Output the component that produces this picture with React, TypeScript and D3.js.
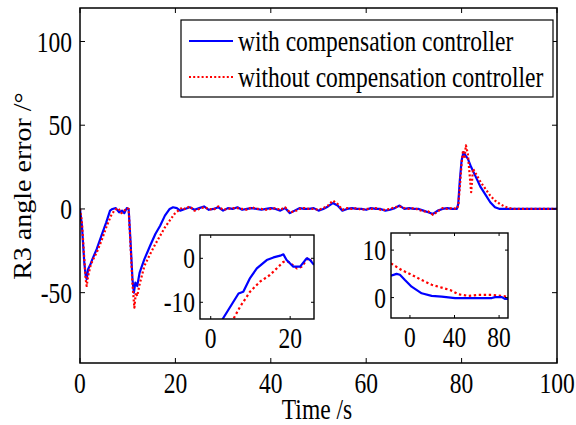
import React from "react";
import * as d3 from "d3";

// Main trace: R3 angle error (deg) vs time (s), [time, value]
const withCompensation: [number, number][] = [
  [0, 0], [0.4, -10], [0.9, -32], [1.2, -40], [1.4, -42], [1.7, -36], [2.2, -33], [2.6, -30],
  [3.5, -24], [4.5, -16], [5.5, -8], [6.3, -1], [6.8, 0], [7.5, 0.5], [8.2, -2], [8.8, -1],
  [9.3, -2.5], [9.8, 0.5], [10.2, 0], [10.6, -20], [11.0, -42], [11.3, -50], [11.6, -44],
  [12.0, -46], [12.5, -38], [13.5, -30], [14.7, -22], [15.8, -15], [16.8, -10], [17.8, -4],
  [18.8, 0], [19.5, 1], [20.3, 0.5],
  [21, -1], [22, 0], [23, 1], [24, -0.5], [25, 0.5], [26, 1.5], [27, -0.5], [28, 0], [29, 1],
  [30, -1], [31, 0.5], [32, 0], [33, 1], [34, -0.5], [35, 0], [36, 0.5], [37, 0], [38, -0.5],
  [39, 0], [40, 0.5], [41, 0], [42, -1], [43, 0.5], [44, -2.5], [45, -1], [46, 0.5], [47, 0],
  [48, 0], [49, 0.5], [50, -1], [51, 0], [52, 1.5], [53, 3.5], [54, 2], [55, -1], [56, 0],
  [57, 0.5], [58, 0], [59, 0], [60, -0.5], [61, 0.5], [62, 0], [63, 0], [64, -1], [65, -0.5],
  [66, 0.5], [67, 2], [68, 0], [69, 0.5], [70, 0], [71, 0], [72, -1], [73, -2], [74, -3],
  [75, -1], [76, 0], [77, 0.5], [78, 0], [79, 0],
  [79.3, 3], [79.6, 16], [80, 29], [80.4, 34], [80.8, 32], [81.3, 30], [82, 25], [83, 19],
  [84, 13], [85, 8.5], [86, 4], [87, 1], [88, 0], [90, 0], [95, 0], [100, 0],
];

const withoutCompensation: [number, number][] = [
  [0, 0], [0.4, -8], [0.9, -30], [1.2, -42], [1.4, -46], [1.7, -40], [2.2, -34], [2.6, -31],
  [3.5, -26], [4.5, -19], [5.5, -11], [6.5, -4], [7.3, -0.5], [8, 0.5], [8.7, -2.5], [9.3, -1],
  [9.8, 0.5], [10.2, 0], [10.6, -22], [11.0, -45], [11.4, -59], [11.7, -50], [12.0, -52],
  [12.5, -45], [13.5, -34], [14.7, -27], [15.8, -21], [16.8, -16], [17.8, -11], [18.8, -7],
  [19.8, -3], [20.8, -0.5], [21.5, 1],
  [22, 0], [23, 1.5], [24, -1], [25, 0], [26, 1], [27, 0], [28, -0.5], [29, 1.5], [30, -0.5],
  [31, 0], [32, 0.5], [33, 0.5], [34, 0], [35, -0.5], [36, 1], [37, 0], [38, 0], [39, -0.5],
  [40, 0], [41, 0.5], [42, -0.5], [43, 1], [44, -2], [45, -1.5], [46, 0], [47, 0.5], [48, 0],
  [49, 0], [50, -0.5], [51, 0.5], [52, 2], [53, 5], [54, 3], [55, -0.5], [56, 0.5], [57, 0],
  [58, 0.5], [59, -0.5], [60, 0], [61, 0], [62, 0.5], [63, -0.5], [64, -0.5], [65, 0],
  [66, 1], [67, 1.5], [68, 0.5], [69, 0], [70, 0.5], [71, -0.5], [72, -1.5], [73, -1.5],
  [74, -3.5], [75, -1.5], [76, 0.5], [77, 0], [78, 0.5], [79, 0],
  [79.3, 2], [79.6, 12], [80, 27], [80.3, 35], [80.6, 30], [80.9, 38], [81.3, 33], [81.7, 20],
  [82, 10], [82.4, 24], [83, 21], [84, 16], [85, 12], [86, 8], [87, 5], [88, 3], [89, 1.5],
  [90, 0.5], [91, 0], [95, 0], [100, 0],
];

// Detail window 1 (recovery after the second dip)
const detailAWith: [number, number][] = [
  [-3, -22], [3.0, -13.8], [7.0, -8.0], [8.2, -7.6], [9.9, -4.5], [11.6, -2.3], [14.1, -0.4],
  [15.8, 0.2], [17.5, 0.6], [18.3, 0.9], [19.1, -0.4], [20.8, -1.9], [22.5, -1.9], [23.8, -0.4],
  [24.2, 0], [25.0, -0.4], [26, -1.5],
];
const detailAWithout: [number, number][] = [
  [-3, -30], [5.7, -13.8], [7.4, -11], [9.9, -7.6], [12.4, -5.3], [14.9, -3.8], [16.6, -2.3],
  [18.3, -0.8], [19.6, -0.8], [21.7, -2.3], [22.9, -1.9], [23.8, -0.8], [24.4, 0], [25.4, -0.6],
  [26, -0.8],
];

// Detail window 2 (tail after the final peak)
const detailBWith: [number, number][] = [
  [-17, 4.6], [-12, 5.0], [-9, 4.8], [-4.5, 3.7], [1.5, 2.3], [10.5, 0.9], [19.5, 0.36],
  [28.5, 0.2], [40.5, -0.1], [55.5, -0.1], [73.5, -0.1], [76.5, 0.1], [82.5, 0.1], [85.5, -0.3],
  [88, -0.3],
];
const detailBWithout: [number, number][] = [
  [-17, 7.2], [-7.5, 5.8], [1.5, 4.8], [10.5, 3.7], [19.5, 2.7], [28.5, 2.1], [36, 1.6],
  [43.5, 0.7], [52.5, 0.36], [61.5, 0.57], [73.5, 0.57], [82.5, 0.36], [88, 0.15],
];

const mainXTicks = [0, 20, 40, 60, 80, 100];
const mainYTicks = [-50, 0, 50, 100];
const detailAXTicks = [0, 20];
const detailAYTicks = [-10, 0];
const detailBXTicks = [0, 40, 80];
const detailBYTicks = [0, 10];

const legendLabels = ["with compensation controller", "without compensation controller"];
const xLabel = "Time /s";
const yLabel = "R3 angle error /°";

const FONT = "Liberation Serif, Times New Roman, serif";
const FS = 23.5;
const SY = 1.28;
const BLUE = "#0000ff";
const RED = "#ff0000";

type Pt = [number, number];

function Label({ x, y, anchor = "middle", children, size = FS }: any) {
  return (
    <text
      transform={`translate(${x},${y}) scale(1,${SY})`}
      textAnchor={anchor}
      dominantBaseline="central"
      fontFamily={FONT}
      fontSize={size}
      fill="#000"
    >
      {children}
    </text>
  );
}

function Panel({
  id, x0, x1, y0, y1, xDomain, yDomain, xTicks, yTicks, series, tick, sw, dash, axisW,
  xLabelOffset, yLabelOffset, showTop = true,
}: any) {
  const x = d3.scaleLinear().domain(xDomain).range([x0, x1]);
  const y = d3.scaleLinear().domain(yDomain).range([y1, y0]);
  const line = d3.line<Pt>().x((d) => x(d[0])).y((d) => y(d[1]));
  return (
    <g>
      <defs>
        <clipPath id={id}>
          <rect x={x0} y={y0} width={x1 - x0} height={y1 - y0} />
        </clipPath>
      </defs>
      <rect x={x0} y={y0} width={x1 - x0} height={y1 - y0} fill="#fff" />
      <g clipPath={`url(#${id})`}>
        {series.map((s: any, i: number) => (
          <path
            key={i}
            d={line(s.data) || ""}
            fill="none"
            stroke={s.color}
            strokeWidth={sw}
            strokeDasharray={s.dotted ? dash : undefined}
            strokeLinejoin="round"
          />
        ))}
      </g>
      {xTicks.map((t: number) => (
        <g key={`x${t}`}>
          <line x1={x(t)} x2={x(t)} y1={y1} y2={y1 - tick} stroke="#000" strokeWidth={1} />
          {showTop && <line x1={x(t)} x2={x(t)} y1={y0} y2={y0 + tick} stroke="#000" strokeWidth={1} />}
          <Label x={x(t)} y={y1 + xLabelOffset}>{t}</Label>
        </g>
      ))}
      {yTicks.map((t: number) => (
        <g key={`y${t}`}>
          <line x1={x0} x2={x0 + tick} y1={y(t)} y2={y(t)} stroke="#000" strokeWidth={1} />
          <line x1={x1} x2={x1 - tick} y1={y(t)} y2={y(t)} stroke="#000" strokeWidth={1} />
          <Label x={x0 - yLabelOffset} y={y(t)} anchor="end">{t}</Label>
        </g>
      ))}
      <rect x={x0} y={y0} width={x1 - x0} height={y1 - y0} fill="none" stroke="#000" strokeWidth={axisW} />
    </g>
  );
}

export default function App() {
  const mainSeries = [
    { data: withCompensation, color: BLUE, dotted: false },
    { data: withoutCompensation, color: RED, dotted: true },
  ];
  const detailASeries = [
    { data: detailAWithout, color: RED, dotted: true },
    { data: detailAWith, color: BLUE, dotted: false },
  ];
  const detailBSeries = [
    { data: detailBWithout, color: RED, dotted: true },
    { data: detailBWith, color: BLUE, dotted: false },
  ];

  const lgX0 = 181, lgX1 = 553, lgY0 = 20, lgY1 = 97;
  const rows = [41, 77];

  return (
    <svg
      width={576}
      height={425}
      style={{ position: "absolute", left: 0, top: 0, background: "#fff" }}
    >
      <rect width={576} height={425} fill="#fff" />
      <Panel
        id="clip-main" x0={80} x1={557} y0={8} y1={363}
        xDomain={[0, 100]} yDomain={[-92, 120]}
        xTicks={mainXTicks} yTicks={mainYTicks} series={mainSeries}
        tick={5} sw={2.2} dash="2 2.2" axisW={1.5} xLabelOffset={20} yLabelOffset={8}
      />
      <Panel
        id="clip-a" x0={200} x1={314} y0={235} y1={319}
        xDomain={[-2.7, 26]} yDomain={[-13.8, 5.3]}
        xTicks={detailAXTicks} yTicks={detailAYTicks} series={detailASeries}
        tick={3} sw={2.2} dash="2.4 2.6" axisW={1.4} xLabelOffset={19} yLabelOffset={5}
      />
      <Panel
        id="clip-b" x0={391} x1={508} y0={233} y1={318}
        xDomain={[-17, 88]} yDomain={[-4.3, 13.6]}
        xTicks={detailBXTicks} yTicks={detailBYTicks} series={detailBSeries}
        tick={3} sw={2.2} dash="2.4 2.6" axisW={1.4} xLabelOffset={19} yLabelOffset={5}
      />

      {/* legend */}
      <rect x={lgX0} y={lgY0} width={lgX1 - lgX0} height={lgY1 - lgY0} fill="#fff" stroke="#000" strokeWidth={1.2} />
      <line x1={189} x2={233} y1={rows[0]} y2={rows[0]} stroke={BLUE} strokeWidth={2.2} />
      <line x1={189} x2={233} y1={rows[1]} y2={rows[1]} stroke={RED} strokeWidth={2.2} strokeDasharray="2 2.2" />
      <Label x={238} y={rows[0]} anchor="start">{legendLabels[0]}</Label>
      <Label x={238} y={rows[1]} anchor="start">{legendLabels[1]}</Label>

      <Label x={317} y={409}>{xLabel}</Label>
      <text
        transform={`translate(23,186) rotate(-90) scale(1.12,1)`}
        textAnchor="middle"
        dominantBaseline="central"
        fontFamily={FONT}
        fontSize={25}
      >
        {yLabel}
      </text>
    </svg>
  );
}
